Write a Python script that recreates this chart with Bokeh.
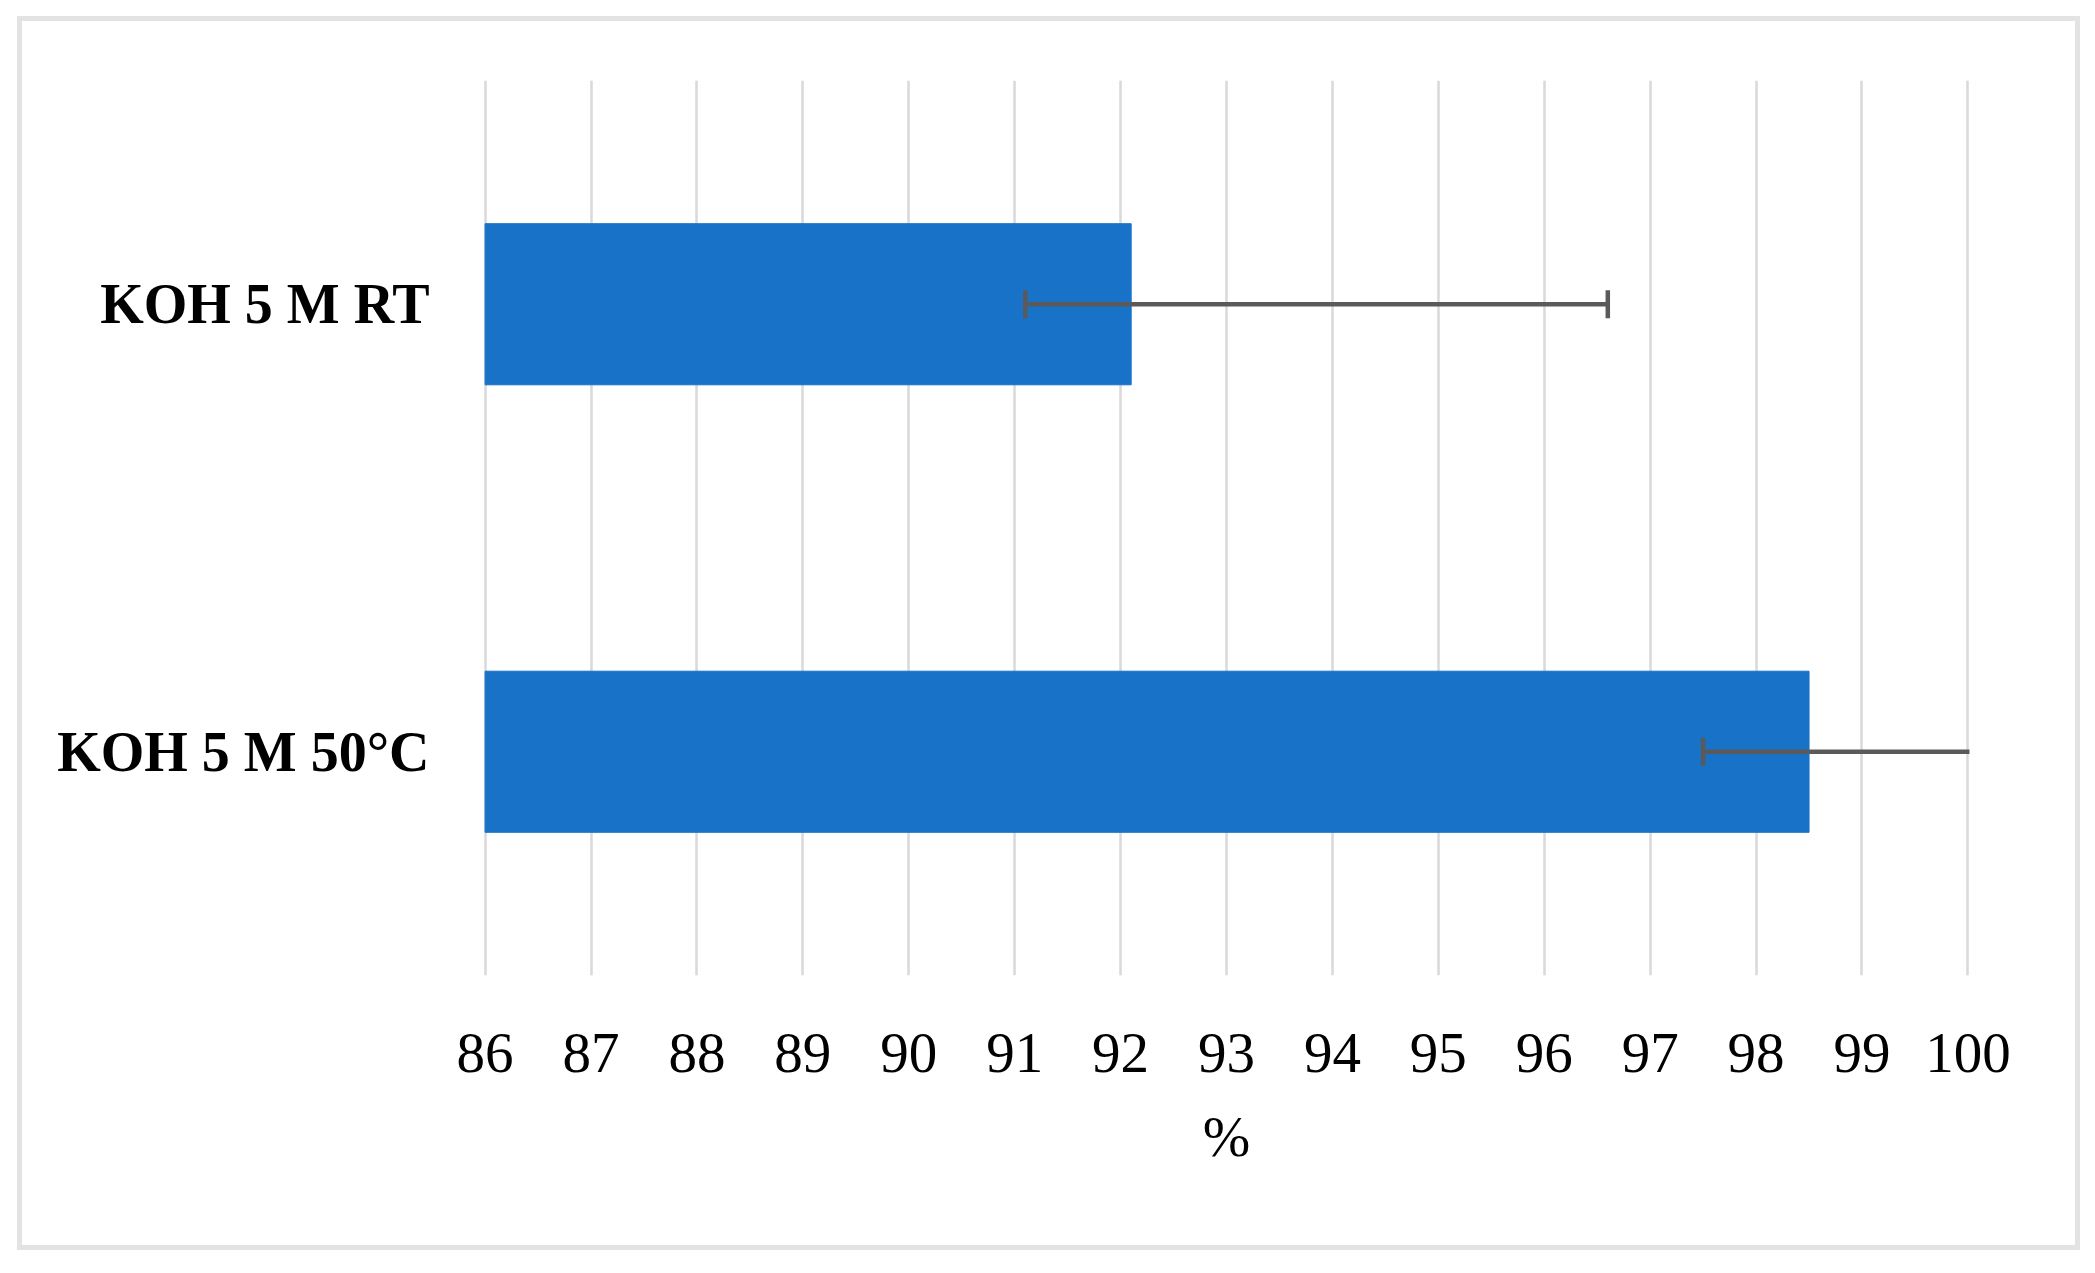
import math
from bokeh.plotting import figure
from bokeh.models import Range1d, FixedTicker
from bokeh.embed import file_html
from bokeh.resources import INLINE

# ---- data ----
categories = ["KOH 5 M 50°C", "KOH 5 M RT"]   # bottom -> top
values = [98.5, 92.1]
err_low = [97.5, 91.1]
err_high = [100.6, 96.6]
x_ticks = [86, 87, 88, 89, 90, 91, 92, 93, 94, 95, 96, 97, 98, 99, 100]
x_label = "%"

BAR = "#1772C8"
ERR = "#5a5a5a"
GRID = "#d9d9d9"
FONT = "Liberation Serif"

p = figure(
    width=2063, height=1234,
    y_range=categories,
    x_range=Range1d(85.985, 100.015),
    output_backend="svg", toolbar_location=None,
    min_border_left=466, min_border_right=111,
    min_border_top=64, min_border_bottom=275,
)
p.margin = (16, 0, 0, 17)
p.styles = {"outline": "5px solid #e3e3e3", "outline-offset": "-5px",
            "background-color": "white"}
p.background_fill_color = "white"
p.border_fill_color = None
p.outline_line_color = None

p.hbar(y=categories, right=values, left=86, height=0.36,
       fill_color=BAR, line_color=BAR, line_width=1)

p.segment(x0=err_low, x1=err_high, y0=categories, y1=categories,
          line_color=ERR, line_width=4.5)
p.scatter(x=err_low, y=categories, marker="dash", angle=math.pi / 2,
          size=28, line_color=ERR, line_width=4.5)
p.scatter(x=err_high, y=categories, marker="dash", angle=math.pi / 2,
          size=28, line_color=ERR, line_width=4.5)

# grids
p.ygrid.grid_line_color = None
p.xgrid.grid_line_color = GRID
p.xgrid.grid_line_width = 2.5
p.xaxis.ticker = FixedTicker(ticks=x_ticks)

# x axis
p.xaxis.axis_line_color = None
p.xaxis.major_tick_line_color = None
p.xaxis.minor_tick_line_color = None
p.xaxis.major_label_text_font = FONT
p.xaxis.major_label_text_font_size = "57px"
p.xaxis.major_label_text_color = "black"
p.xaxis.major_label_standoff = 52
p.xaxis.axis_label = x_label
p.xaxis.axis_label_text_font = FONT
p.xaxis.axis_label_text_font_style = "normal"
p.xaxis.axis_label_text_font_size = "57px"
p.xaxis.axis_label_text_color = "black"
p.xaxis.axis_label_standoff = 30

# y axis
p.yaxis.axis_line_color = None
p.yaxis.major_tick_line_color = None
p.yaxis.minor_tick_line_color = None
p.yaxis.major_label_text_font = FONT
p.yaxis.major_label_text_font_style = "bold"
p.yaxis.major_label_text_font_size = "56px"
p.yaxis.major_label_text_color = "black"
p.yaxis.major_label_standoff = 48

open("out.html", "w").write(file_html(p, INLINE))
